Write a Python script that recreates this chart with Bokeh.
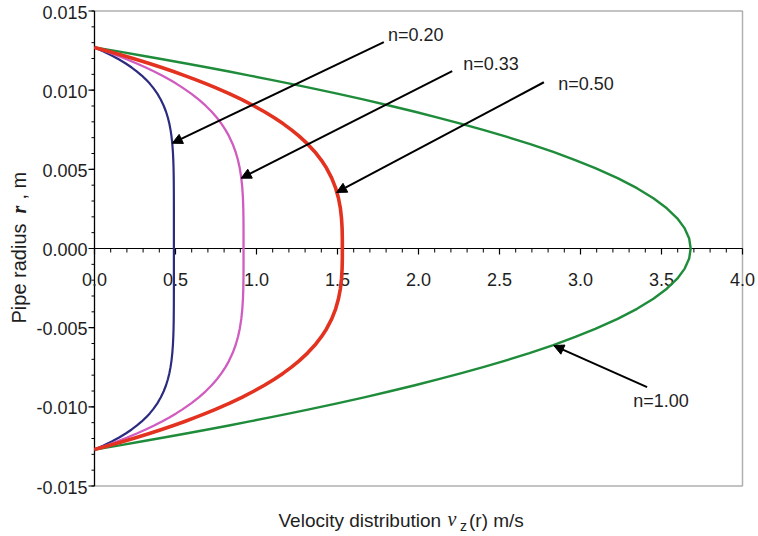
import numpy as np
from bokeh.plotting import figure
from bokeh.models import Range1d, Arrow, NormalHead, ColumnDataSource
from bokeh.core.properties import value
from bokeh.embed import file_html
from bokeh.resources import INLINE

# ---------------- data ----------------
# radial positions (m), from the wall (r = R) to the centre-line (r = 0)
R_POS = [0.0127, 0.012446, 0.012192, 0.011938, 0.011684, 0.01143, 0.011176,
         0.010922, 0.010668, 0.010414, 0.01016, 0.009779, 0.009398, 0.009017,
         0.008636, 0.008255, 0.007874, 0.007493, 0.007112, 0.006604, 0.006096,
         0.005588, 0.00508, 0.004445, 0.00381, 0.003175, 0.00254, 0.001905,
         0.00127, 0.000635, 0.0]
# velocity (m/s) at those radii for each flow-behaviour index n
V_N020 = [0.0, 0.0559, 0.1064, 0.1520, 0.1929, 0.2296, 0.2624, 0.2918, 0.3179,
          0.3410, 0.3615, 0.3879, 0.4095, 0.4272, 0.4416, 0.4530, 0.4622, 0.4693,
          0.4749, 0.4803, 0.4840, 0.4864, 0.4880, 0.4891, 0.4896, 0.4899, 0.4900,
          0.4900, 0.4900, 0.4900, 0.4900]
V_N033 = [0.0, 0.0714, 0.1386, 0.2017, 0.2609, 0.3164, 0.3683, 0.4168, 0.4620,
          0.5040, 0.5432, 0.5966, 0.6441, 0.6862, 0.7233, 0.7558, 0.7841, 0.8085,
          0.8295, 0.8527, 0.8712, 0.8855, 0.8964, 0.9062, 0.9125, 0.9164, 0.9185,
          0.9195, 0.9199, 0.9200, 0.9200]
V_N050 = [0.0, 0.0900, 0.1764, 0.2592, 0.3386, 0.4146, 0.4873, 0.5568, 0.6232,
          0.6864, 0.7466, 0.8315, 0.9100, 0.9824, 1.0489, 1.1098, 1.1654, 1.2158,
          1.2613, 1.3149, 1.3608, 1.3997, 1.4321, 1.4644, 1.4887, 1.5061, 1.5178,
          1.5248, 1.5285, 1.5298, 1.5300]
V_N100 = [0.0, 0.1457, 0.2885, 0.4284, 0.5652, 0.6992, 0.8302, 0.9583, 1.0834,
          1.2056, 1.3248, 1.4981, 1.6648, 1.8249, 1.9784, 2.1252, 2.2654, 2.3990,
          2.5260, 2.6849, 2.8321, 2.9676, 3.0912, 3.2292, 3.3488, 3.4500, 3.5328,
          3.5972, 3.6432, 3.6708, 3.6800]

X_TICKS = [0.0, 0.5, 1.0, 1.5, 2.0, 2.5, 3.0, 3.5, 4.0]
X_LABELS = ["0.0", "0.5", "1.0", "1.5", "2.0", "2.5", "3.0", "3.5", "4.0"]
Y_TICKS = [-0.015, -0.010, -0.005, 0.0, 0.005, 0.010, 0.015]
Y_LABELS = ["-0.015", "-0.010", "-0.005", "0.000", "0.005", "0.010", "0.015"]

ANN_TEXT = ["n=0.20", "n=0.33", "n=0.50", "n=1.00"]
ANN_TEXT_X = [1.812, 2.276, 2.862, 3.325]
ANN_TEXT_Y = [0.01349, 0.01165, 0.01036, -0.00966]
ARROW_TAIL_X = [1.786, 2.208, 2.774, 3.411]
ARROW_TAIL_Y = [0.01303, 0.0112, 0.0105, -0.00876]
ARROW_TIP_X = [0.480, 0.905, 1.494, 2.835]
ARROW_TIP_Y = [0.00665, 0.00444, 0.00354, -0.00613]

X_MIN, X_MAX = 0.0, 4.0
Y_MIN, Y_MAX = -0.015, 0.015

FONT = "Liberation Sans"
TXT = "#1e1e1e"

# ---------------- geometry: the frame fills the canvas, axes drawn by hand ----
W, H = 758, 536
LEFT_PX, RIGHT_PX = 94, 742          # pixel columns of x = 0 and x = 4
ZERO_PX, TOP_PX = 248, 10.5          # pixel rows of r = 0 and r = 0.015
ppx = (RIGHT_PX - LEFT_PX) / (X_MAX - X_MIN)
ppy = (ZERO_PX - TOP_PX) / Y_MAX
x_range = Range1d(-LEFT_PX / ppx, (W - LEFT_PX) / ppx)
y_range = Range1d(-(H - ZERO_PX) / ppy, ZERO_PX / ppy)

p = figure(width=W, height=H, x_range=x_range, y_range=y_range,
           x_axis_type=None, y_axis_type=None, output_backend="svg",
           toolbar_location=None, min_border=0)
p.min_border_left = p.min_border_right = p.min_border_top = p.min_border_bottom = 0
p.background_fill_color = "white"
p.border_fill_color = "white"
p.outline_line_color = None
p.grid.visible = False

# grey frame (top, right, bottom)
p.line([X_MIN, X_MAX, X_MAX, X_MIN], [Y_MAX, Y_MAX, Y_MIN, Y_MIN],
       line_color="#b0b0b0", line_width=1.5)

# left (r) axis
p.line([X_MIN, X_MIN], [Y_MIN, Y_MAX], line_color="black", line_width=1.3)
yminor = [round(v, 4) for v in np.arange(-0.015, 0.0151, 0.001)]
p.segment(x0=[X_MIN] * len(Y_TICKS), y0=Y_TICKS, x1=[X_MIN - 6 / ppx] * len(Y_TICKS),
          y1=Y_TICKS, line_color="black", line_width=1.2)
p.segment(x0=[X_MIN] * len(yminor), y0=yminor, x1=[X_MIN - 3 / ppx] * len(yminor),
          y1=yminor, line_color="black", line_width=1)
p.text(x=[X_MIN] * len(Y_TICKS), y=Y_TICKS, text=Y_LABELS, text_align="right",
       text_baseline="middle", x_offset=-7, y_offset=1, text_font=value(FONT),
       text_font_size=value("18px"), text_color=TXT)

# horizontal (v) axis along r = 0
xminor = [round(v, 2) for v in np.arange(0, 4.001, 0.1) if round(v * 10) % 5 != 0]
p.line([X_MIN, X_MAX], [0, 0], line_color="black", line_width=1.2)
p.segment(x0=X_TICKS, y0=[0] * len(X_TICKS), x1=X_TICKS, y1=[-6 / ppy] * len(X_TICKS),
          line_color="black", line_width=1.2)
p.segment(x0=xminor, y0=[0] * len(xminor), x1=xminor, y1=[-4 / ppy] * len(xminor),
          line_color="black", line_width=1)
p.text(x=X_TICKS, y=[0] * len(X_TICKS), text=X_LABELS, text_align="center",
       text_baseline="middle", y_offset=31, text_font=value(FONT),
       text_font_size=value("18px"), text_color=TXT)

# ---------------- curves ----------------
r_full = [-r for r in R_POS] + R_POS[::-1][1:]


def full(v):
    return v + v[::-1][1:]


p.line(full(V_N100), r_full, line_color="#1e8c3a", line_width=2.4, line_join="round")
p.line(full(V_N020), r_full, line_color="#2b2b80", line_width=2.2, line_join="round")
p.line(full(V_N033), r_full, line_color="#d05cc0", line_width=2.3, line_join="round")
p.line(full(V_N050), r_full, line_color="#e3321f", line_width=3.6, line_join="round")

# ---------------- annotations ----------------
asrc = ColumnDataSource(dict(x0=ARROW_TAIL_X, y0=ARROW_TAIL_Y, x1=ARROW_TIP_X, y1=ARROW_TIP_Y))
p.add_layout(Arrow(x_start="x0", y_start="y0", x_end="x1", y_end="y1", source=asrc,
                   line_color="black", line_width=2,
                   end=NormalHead(size=10, fill_color="black", line_color="black", line_width=1)))
p.text(x=ANN_TEXT_X, y=ANN_TEXT_Y, text=ANN_TEXT, text_align="left",
       text_baseline="middle", text_font=value(FONT), text_font_size=value("18px"),
       text_color=TXT)


# ---------------- axis titles (mixed fonts) ----------------
def px_x(px):
    return X_MIN + (px - LEFT_PX) / ppx


def px_y(py):
    return (ZERO_PX - py) / ppy


# x title: "Velocity distribution v_z(r) m/s"
p.text(x=[px_x(278)], y=[px_y(520)], text=["Velocity distribution"], text_align="left",
       text_baseline="middle", text_font=value(FONT), text_font_size=value("19px"),
       text_color=TXT)
p.text(x=[px_x(447)], y=[px_y(518)], text=["v"], text_align="left",
       text_baseline="middle", text_font=value("Liberation Serif"),
       text_font_style="italic", text_font_size=value("20px"), text_color=TXT)
p.text(x=[px_x(459.5)], y=[px_y(525)], text=["z"], text_align="left",
       text_baseline="middle", text_font=value(FONT), text_font_size=value("14px"),
       text_color=TXT)
p.text(x=[px_x(468.5)], y=[px_y(520)], text=["(r) m/s"], text_align="left",
       text_baseline="middle", text_font=value(FONT), text_font_size=value("19px"),
       text_color=TXT)

# y title: "Pipe radius r , m" (rotated)
p.text(x=[px_x(18)], y=[px_y(323)], text=["Pipe radius"], angle=np.pi / 2,
       text_align="left", text_baseline="middle", text_font=value(FONT),
       text_font_size=value("20px"), text_color=TXT)
p.text(x=[px_x(18)], y=[px_y(213)], text=["r"], angle=np.pi / 2,
       text_align="left", text_baseline="middle", text_font=value("Liberation Serif"),
       text_font_style="bold italic", text_font_size=value("20px"), text_color=TXT)
p.text(x=[px_x(18)], y=[px_y(199)], text=[", m"], angle=np.pi / 2,
       text_align="left", text_baseline="middle", text_font=value(FONT),
       text_font_size=value("20px"), text_color=TXT)

open("out.html", "w").write(file_html(p, INLINE))
